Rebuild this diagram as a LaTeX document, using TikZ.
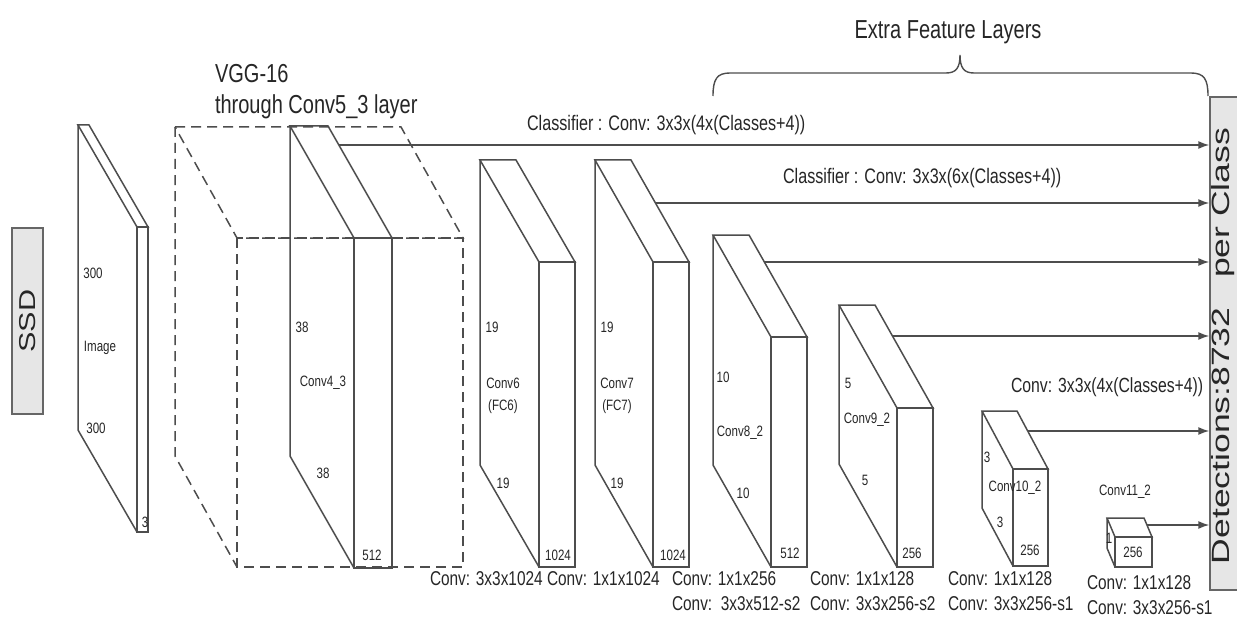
\documentclass[tikz,border=0pt]{standalone}
\usepackage{fontspec}
\setmainfont{Liberation Sans}[FakeStretch=0.77]
\newfontfamily\vfont{Liberation Sans}[FakeStretch=1.33]
\newfontfamily\vvfont{Liberation Sans}[FakeStretch=1.42]
\usetikzlibrary{arrows.meta,calc}
\definecolor{ln}{HTML}{4D4D4D}
\definecolor{txt}{HTML}{262626}
\definecolor{boxfill}{HTML}{E6E6E6}
\definecolor{boxline}{HTML}{666666}
\newcommand\fbig{\fontsize{26}{28}\selectfont}
\newcommand\fmed{\fontsize{21}{23}\selectfont}
\newcommand\fbot{\fontsize{20}{22}\selectfont}
\newcommand\fsm{\fontsize{15}{17}\selectfont}
% #1 style, #2 name, #3 L, #4 T, #5 F, #6 T2, #7 w, #8 B
\newcommand\mycube[8][blk]{%
  \pgfmathsetmacro\myLB{#8-(#6-#4)}%
  \draw[#1] (#3,#4) -- ({#3+#7},#4) -- ({#5+#7},#6) -- (#5,#6) -- cycle;
  \draw[#1] (#3,#4) -- (#3,\myLB) -- (#5,#8);
  \draw[#1] (#5,#6) rectangle ({#5+#7},#8);
  \coordinate (#2-tl) at (#3,#4);
  \coordinate (#2-tr) at ({#3+#7},#4);
  \coordinate (#2-ftr) at ({#5+#7},#6);
}
\begin{document}
\begin{tikzpicture}[x=1pt,y=-1pt,
  blk/.style={draw=ln,line width=1.5pt,line join=miter},
  dsh/.style={draw=ln,line width=1.5pt,dash pattern=on 10pt off 6pt},
  arr/.style={draw=ln,line width=1.5pt,-{Latex[length=11pt,width=8pt]}},
  t/.style={inner sep=0pt,outer sep=0pt,text=txt},
  tw/.style={t,anchor=west},
  sidebox/.style={draw=boxline,fill=boxfill,line width=1.4pt,inner sep=0pt}]
\path[use as bounding box,fill=white] (0,0) rectangle (1237,623);

% side boxes
\node[sidebox,minimum width=31pt,minimum height=186pt] (ssd) at (27.5,321)
  {\rotatebox{90}{\vfont\fontsize{23}{25}\selectfont\color{txt}SSD}};
\node[sidebox,minimum width=28pt,minimum height=493pt] (det) at (1224,343.5) {};
\node[t] (dettext) at (1223.5,346)
  {\rotatebox{90}{\vvfont\fontsize{25}{27}\selectfont Detections:8732\ \ \ per Class}};

% blocks
\mycube{img}{78}{125}{137}{227}{11}{532}
\mycube[dsh]{vgg}{175}{127}{237}{238}{226}{567}
\mycube{c4}{290}{126}{354}{238}{38}{568}
\mycube{c6}{480}{160}{539}{262}{36}{567}
\mycube{c7}{595}{160}{653}{262}{36}{567}
\mycube{c8}{713}{235}{771}{337}{36}{567}
\mycube{c9}{839}{305}{897}{408}{36}{567}
\mycube{c10}{982}{411}{1013}{469}{35}{566}
\mycube{c11}{1107}{518}{1115}{537}{37}{567}

% arrow start points on the blocks
\coordinate (a1) at (339,145);
\coordinate (a2) at (656,203);
\coordinate (a3) at (765,262);
\coordinate (a4) at (892,336);
\coordinate (a5) at (1028,431);
\coordinate (a6) at (1147,525);
\foreach \a in {a1,a2,a3,a4,a5,a6}
  \draw[arr] (\a) -- (\a -| det.west);

% brace
\draw[blk,line width=1.4pt] (713,96) .. controls (713,79) and (717,73) .. (730,73)
  -- (946,73) .. controls (956,73) and (960,68) .. (960,55)
  .. controls (960,68) and (964,73) .. (974,73)
  -- (1191,73) .. controls (1204,73) and (1208,79) .. (1208,96);

% titles
\node[t] (extra) at (948,32) {\fbig Extra Feature Layers};
\node[tw] (vgg1) at (215,74) {\fbig VGG-16};
\node[tw] (vgg2) at (215,107) {\fbig through Conv5\_3 layer};
\node[tw] (cls1) at (527,125) {\fmed Classifier : Conv: 3x3x(4x(Classes+4))};
\node[tw] (cls2) at (783,178) {\fmed Classifier : Conv: 3x3x(6x(Classes+4))};
\node[tw] (cls3) at (1011,387) {\fontsize{20.5}{22}\selectfont Conv: 3x3x(4x(Classes+4))};

% block labels
\node[t] (i1) at (93,273) {\fsm 300};
\node[t] (i2) at (100,348) {\fsm Image};
\node[t] (i3) at (96,428) {\fsm 300};
\node[t] (i4) at (145,522) {\fsm 3};

\node[t] (k1) at (302,327) {\fsm 38};
\node[t] (k2) at (323,383) {\fsm Conv4\_3};
\node[t] (k3) at (323,473) {\fsm 38};
\node[t] (k4) at (372,555) {\fsm 512};

\node[t] (s1) at (492,327) {\fsm 19};
\node[t] (s2) at (503,383) {\fsm Conv6};
\node[t] (s3) at (503,407) {\fsm (FC6)};
\node[t] (s4) at (503,483) {\fsm 19};
\node[t] (s5) at (558,555) {\fsm 1024};

\node[t] (m1) at (607,327) {\fsm 19};
\node[t] (m2) at (617,383) {\fsm Conv7};
\node[t] (m3) at (617,407) {\fsm (FC7)};
\node[t] (m4) at (617,483) {\fsm 19};
\node[t] (m5) at (673,555) {\fsm 1024};

\node[t] (e1) at (723,377) {\fsm 10};
\node[t] (e2) at (740,433) {\fsm Conv8\_2};
\node[t] (e3) at (743,493) {\fsm 10};
\node[t] (e4) at (790,553) {\fsm 512};

\node[t] (n1) at (848,383) {\fsm 5};
\node[t] (n2) at (867,420) {\fsm Conv9\_2};
\node[t] (n3) at (865,480) {\fsm 5};
\node[t] (n4) at (912,553) {\fsm 256};

\node[t] (x1) at (987,457) {\fsm 3};
\node[t] (x2) at (1015,488) {\fsm Conv10\_2};
\node[t] (x3) at (1000,522) {\fsm 3};
\node[t] (x4) at (1030,550) {\fsm 256};

\node[t] (y1) at (1125,492) {\fsm Conv11\_2};
\node[t] (y2) at (1109,538) {\fsm 1};
\node[t] (y3) at (1133,552) {\fsm 256};

% bottom labels
\node[tw] (b1) at (430,579) {\fbot Conv: 3x3x1024};
\node[tw] (b2) at (547,579) {\fbot Conv: 1x1x1024};
\node[tw] (b3) at (672,579) {\fbot Conv: 1x1x256};
\node[tw] (b4) at (810,579) {\fbot Conv: 1x1x128};
\node[tw] (b5) at (948,579) {\fbot Conv: 1x1x128};
\node[tw] (b6) at (1087,583) {\fbot Conv: 1x1x128};
\node[tw] (c1) at (672,604) {\fbot Conv:\ \ 3x3x512-s2};
\node[tw] (c2) at (810,604) {\fbot Conv: 3x3x256-s2};
\node[tw] (c3) at (948,604) {\fbot Conv: 3x3x256-s1};
\node[tw] (c4l) at (1087,608) {\fbot Conv: 3x3x256-s1};
\end{tikzpicture}
\end{document}
